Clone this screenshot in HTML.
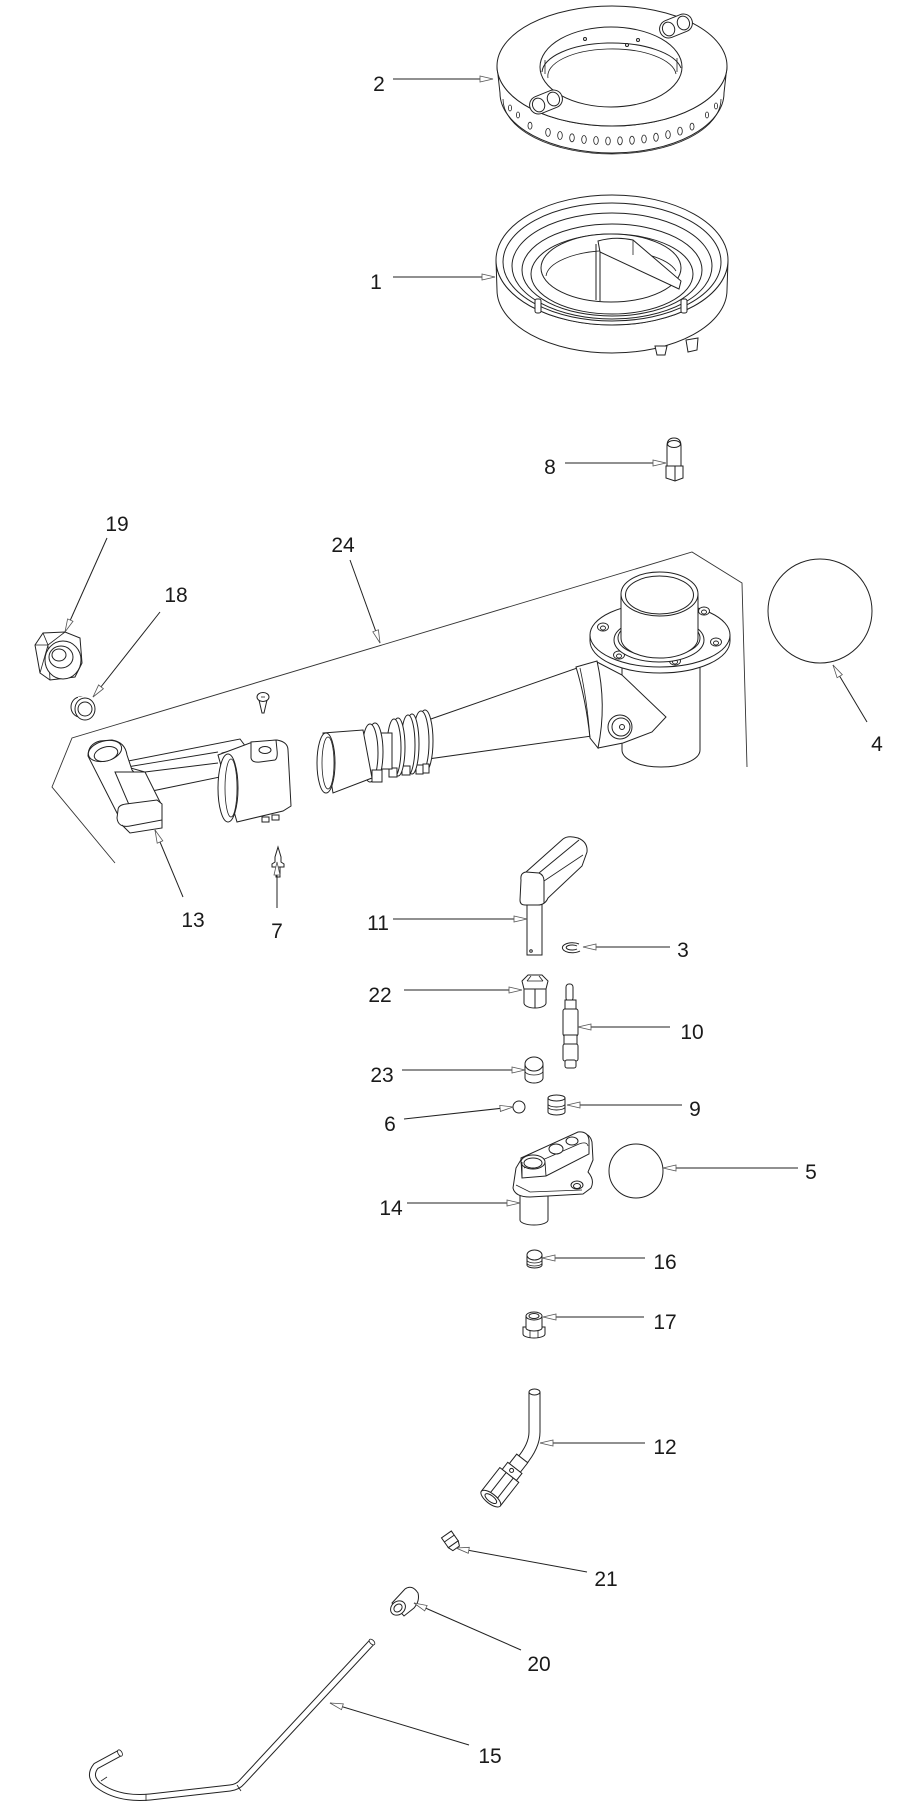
<!DOCTYPE html>
<html><head><meta charset="utf-8"><style>
html,body{margin:0;padding:0;background:#fff;}
svg{display:block;}
text{font-family:"Liberation Sans",sans-serif;font-size:21px;fill:#1a1a1a;text-anchor:middle;}
</style></head><body>
<svg width="923" height="1808" viewBox="0 0 923 1808" xmlns="http://www.w3.org/2000/svg">
<rect width="923" height="1808" fill="#fff"/>

<!-- ============ RING 2 ============ -->
<g stroke="#222" stroke-width="1" fill="#fff">
<path d="M497,66 L500,93 A112,60 0 0 0 724,93 L727,66 A115,60 0 0 1 497,66 Z"/>
<path d="M503,99 A109,55 0 0 0 721,99" fill="none" stroke-width="0.8"/>
<ellipse cx="612" cy="66" rx="115" ry="60"/>
<ellipse cx="611" cy="67" rx="71" ry="40"/>
<path d="M542,72 A70,30 0 0 1 681,68" fill="none"/>
<path d="M548,78 A64,27 0 0 1 676,74" fill="none" stroke-width="0.8"/>
<line x1="545" y1="60" x2="545" y2="74" stroke-width="0.8"/>
<line x1="677" y1="58" x2="677" y2="72" stroke-width="0.8"/>
<circle cx="585" cy="39" r="1.5"/><circle cx="638" cy="40" r="1.5"/><circle cx="627" cy="45" r="1.5"/>
<g transform="rotate(-22 676 26)"><rect x="659" y="17" width="34" height="18" rx="9"/><ellipse cx="668" cy="26" rx="6" ry="7"/><ellipse cx="684" cy="26" rx="6" ry="7"/></g>
<g transform="rotate(-22 546 102)"><rect x="529" y="93" width="34" height="18" rx="9"/><ellipse cx="538" cy="102" rx="6" ry="7"/><ellipse cx="554" cy="102" rx="6" ry="7"/></g>
<g stroke-width="0.8">
<ellipse cx="530" cy="125.7" rx="2" ry="3.5"/>
<ellipse cx="548" cy="132.4" rx="2.3" ry="4"/>
<ellipse cx="560" cy="135.5" rx="2.3" ry="4"/>
<ellipse cx="572" cy="137.8" rx="2.3" ry="4"/>
<ellipse cx="584" cy="139.5" rx="2.3" ry="4"/>
<ellipse cx="596" cy="140.5" rx="2.3" ry="4"/>
<ellipse cx="608" cy="141" rx="2.3" ry="4"/>
<ellipse cx="620" cy="140.8" rx="2.3" ry="4"/>
<ellipse cx="632" cy="140.2" rx="2.3" ry="4"/>
<ellipse cx="644" cy="139" rx="2.3" ry="4"/>
<ellipse cx="656" cy="137.2" rx="2.3" ry="4"/>
<ellipse cx="668" cy="134.6" rx="2.3" ry="4"/>
<ellipse cx="680" cy="131.1" rx="2.3" ry="4"/>
<ellipse cx="692" cy="126.6" rx="2" ry="3.5"/>
<ellipse cx="510" cy="108" rx="1.6" ry="3"/>
<ellipse cx="518" cy="115" rx="1.6" ry="3"/>
<ellipse cx="707" cy="115" rx="1.6" ry="3"/>
<ellipse cx="716" cy="106" rx="1.6" ry="3"/>
</g>
</g>

<!-- ============ RING 1 ============ -->
<g stroke="#222" stroke-width="1" fill="#fff">
<path d="M496,260 L497,290 A115,63 0 0 0 727,290 L728,260 A116,65 0 0 1 496,260 Z"/>
<path d="M655,346 L657,355 L665,355 L667,346 Z"/>
<path d="M686,340 L688,352 L697,350 L698,338 Z"/>
<ellipse cx="612" cy="260" rx="116" ry="65"/>
<ellipse cx="612" cy="262" rx="109" ry="59" fill="none"/>
<ellipse cx="612" cy="266" rx="100" ry="53" fill="none"/>
<ellipse cx="612" cy="270" rx="90" ry="46" fill="none"/>
<ellipse cx="612" cy="274" rx="81" ry="40" fill="none"/>
<ellipse cx="611" cy="268" rx="70" ry="34"/>
<path d="M546,276 A66,27 0 0 1 676,271" fill="none" stroke-width="0.8"/>
<path d="M596,244 L596,300 M600,246 L600,301" fill="none"/>
<path d="M598,241 Q615,236 633,240 L681,281 L679,289 L600,252 Z"/>
<path d="M633,240 L633,255" fill="none" stroke-width="0.8"/>
<rect x="535" y="299" width="6" height="14" rx="2"/>
<rect x="681" y="299" width="6" height="14" rx="2"/>
</g>

<!-- ============ PART 8 ============ -->
<g stroke="#222" stroke-width="1" fill="#fff">
<path d="M667,446 Q667,438 674,438 Q681,438 681,446 L681,466 L667,466 Z"/>
<ellipse cx="674" cy="444" rx="6.5" ry="3.5"/>
<path d="M666,466 L683,466 L683,478 L675,481 L666,478 Z"/>
<line x1="675" y1="466" x2="675" y2="481"/>
</g>

<!-- ============ PART 24 ============ -->
<polyline points="115,863 52,787 72,738 692,552 742,583 747,767" fill="none" stroke="#333" stroke-width="0.9"/>
<g stroke="#222" stroke-width="1" fill="#fff">
<!-- vertical body -->
<path d="M622,640 L622,750 A39,17 0 0 0 700,750 L700,640 Z"/>
<!-- flange -->
<path d="M590,635 L590,641 A70,32 0 0 0 730,641 L730,635 Z"/>
<ellipse cx="660" cy="635" rx="70" ry="32"/>
<g stroke-width="0.9">
<ellipse cx="603" cy="627" rx="5.5" ry="4"/><ellipse cx="603" cy="628" rx="2.5" ry="2"/>
<ellipse cx="619" cy="655" rx="5.5" ry="4"/><ellipse cx="619" cy="656" rx="2.5" ry="2"/>
<ellipse cx="675" cy="661" rx="5.5" ry="4"/><ellipse cx="675" cy="662" rx="2.5" ry="2"/>
<ellipse cx="716" cy="642" rx="5.5" ry="4"/><ellipse cx="716" cy="643" rx="2.5" ry="2"/>
<ellipse cx="704" cy="611" rx="5.5" ry="4"/><ellipse cx="704" cy="612" rx="2.5" ry="2"/>
</g>
<ellipse cx="659" cy="640" rx="45" ry="22"/>
<ellipse cx="659" cy="638" rx="41" ry="19"/>
<!-- top tube -->
<path d="M621,594 L621,638 A38.5,20 0 0 0 698,638 L698,594 Z"/>
<ellipse cx="659.5" cy="594" rx="38.5" ry="22"/>
<ellipse cx="659.5" cy="595" rx="34" ry="19"/>
<!-- arm -->
<polygon points="428,720 580,667 592,736 428,759"/>
<!-- bracket -->
<polygon points="597,662 622,675 666,717 652,732 623,743 598,748"/>
<path d="M576,667 L597,661 Q607,705 598,748 L590,738 Q586,700 576,667 Z"/>
<path d="M590,738 Q587,700 580,668" fill="none" stroke-width="0.8"/>
<circle cx="620" cy="727" r="12"/>
<circle cx="621" cy="727" r="9"/>
<circle cx="622" cy="727" r="2.5"/>
<!-- ribs -->
<ellipse cx="425" cy="741" rx="8" ry="31"/>
<ellipse cx="421" cy="742" rx="8" ry="31"/>
<rect x="416" y="765" width="7" height="9"/><rect x="423" y="764" width="6" height="9"/>
<ellipse cx="412" cy="744" rx="7" ry="30"/>
<ellipse cx="408" cy="745" rx="7" ry="30"/>
<rect x="402" y="766" width="8" height="9"/>
<ellipse cx="398" cy="747" rx="7" ry="29"/>
<ellipse cx="394" cy="748" rx="7" ry="29"/>
<rect x="389" y="768" width="8" height="9"/>
<rect x="378" y="733" width="14" height="36"/>
<ellipse cx="375" cy="752" rx="8" ry="29"/>
<ellipse cx="370" cy="753" rx="8" ry="29"/>
<rect x="372" y="770" width="10" height="12"/>
<!-- cone -->
<polygon points="323,733 363,730 372,778 333,793"/>
<ellipse cx="326" cy="763" rx="9" ry="30"/>
<ellipse cx="328" cy="763" rx="6" ry="26" fill="none" stroke-width="0.8"/>
</g>

<!-- screw -->
<g stroke="#222" stroke-width="1" fill="#fff">
<path d="M259,700 L267,700 L264,713 L262,713 Z"/>
<ellipse cx="263" cy="697" rx="6" ry="4.5"/>
<line x1="261" y1="697" x2="265" y2="697" stroke-width="0.8"/>
</g>

<!-- ============ PART 13 ============ -->
<g stroke="#222" stroke-width="1" fill="#fff">
<!-- arm -->
<path d="M123,762 L240,739 L246,747 L222,753 L220,777 L152,791 L145,772 L127,767 Z"/>
<line x1="127" y1="767" x2="218" y2="752" stroke-width="0.9"/>
<line x1="145" y1="772" x2="218" y2="763" stroke-width="0.9"/>
<!-- elbow -->
<path d="M88,756 Q88,744 100,741 L112,740 Q125,742 127,755 L132,770 L160,802 L130,808 L118,815 Z"/>
<ellipse cx="105" cy="751" rx="17" ry="10" transform="rotate(-15 105 751)"/>
<ellipse cx="106" cy="754" rx="12" ry="7" transform="rotate(-15 106 754)"/>
<path d="M115,772 L145,772 L160,802 L130,807 Z"/>
<path d="M118,810 Q118,805 126,804 L157,800 L162,804 L162,820 L130,826 Q118,828 117,818 Z"/>
<path d="M122,825 L130,833 L162,828 L162,820" fill="none"/>
<!-- clamp -->
<path d="M218,755 L250,743 L277,740 Q288,742 288,750 L291,806 L283,811 L237,822 Z"/>
<ellipse cx="228" cy="788" rx="10" ry="34"/>
<ellipse cx="231" cy="788" rx="6" ry="29" fill="none" stroke-width="0.8"/>
<path d="M251,742 L251,758 Q252,763 260,762 L275,760 Q278,758 277,750 L276,740 Z"/>
<ellipse cx="265" cy="750" rx="6" ry="3.5"/>
<rect x="262" y="817" width="7" height="5"/><rect x="272" y="815" width="7" height="5"/>
</g>

<!-- part 7 -->
<g stroke="#222" stroke-width="1" fill="#fff">
<path d="M278,847 L281,857 L281,862 L284,864 L284,867 L272,867 L272,864 L275,862 L275,857 Z"/>
<rect x="276" y="867" width="4" height="10"/>
</g>

<!-- part 19 -->
<g stroke="#222" stroke-width="1" fill="#fff">
<polygon points="35,645 43,633 65,632 80,638 82,663 75,677 50,680 40,673"/>
<path d="M43,633 L48,645 L35,645 M48,645 L65,632 M48,645 L50,680 M40,673 L48,645" fill="none" stroke-width="0.8"/>
<ellipse cx="63" cy="660" rx="18" ry="19"/>
<ellipse cx="61" cy="657" rx="12" ry="11"/>
<ellipse cx="59" cy="655" rx="7" ry="6"/>
</g>
<!-- part 18 -->
<g stroke="#222" stroke-width="1" fill="#fff">
<ellipse cx="80" cy="707" rx="9" ry="10"/>
<rect x="78" y="697" width="6" height="21" stroke="none"/>
<ellipse cx="85" cy="709" rx="10" ry="11"/>
<ellipse cx="85" cy="709" rx="7" ry="7"/>
</g>

<!-- circle 4 -->
<circle cx="820" cy="611" r="52" fill="none" stroke="#222" stroke-width="1"/>

<!-- ============ PART 11 ============ -->
<g stroke="#222" stroke-width="1" fill="#fff">
<rect x="527" y="900" width="15" height="55"/>
<circle cx="531" cy="951" r="1.3"/>
<path d="M521,880 Q520,873 526,872 L563,839 Q568,835 578,838 Q588,842 587,852 L582,866 L548,898 Q545,905 538,905 L525,905 Q520,905 520,900 Z"/>
<path d="M526,872 L539,873 Q544,875 544,881 L544,903" fill="none"/>
<path d="M539,873 L579,840" fill="none"/>
<path d="M544,881 L583,855" fill="none" stroke-width="0.8"/>
</g>

<!-- part 3 -->
<g stroke="#222" stroke-width="1" fill="none">
<path d="M579,944 A10,5 0 1 0 580,951"/>
<path d="M577,946 A6,2.5 0 1 0 577,949"/>
</g>

<!-- part 22 -->
<g stroke="#222" stroke-width="1" fill="#fff">
<path d="M524,988 L524,1003 A11,5 0 0 0 546,1003 L546,988 Z"/>
<polygon points="522,981 528,975 542,975 548,981 546,989 524,989"/>
<path d="M527,981 L543,981 M527,981 L531,976 M543,981 L539,976" fill="none" stroke-width="0.8"/>
<line x1="535" y1="989" x2="535" y2="1008"/>
</g>

<!-- part 10 -->
<g stroke="#222" stroke-width="1" fill="#fff">
<rect x="566" y="984" width="7" height="17" rx="3"/>
<rect x="565" y="1000" width="11" height="10"/>
<rect x="563" y="1009" width="15" height="27" rx="2"/>
<rect x="564" y="1035" width="13" height="10"/>
<rect x="563" y="1044" width="15" height="17" rx="2"/>
<rect x="565" y="1060" width="11" height="8" rx="2"/>
</g>

<!-- part 23 -->
<g stroke="#222" stroke-width="1" fill="#fff">
<path d="M525,1065 L525,1078 A9,5 0 0 0 543,1078 L543,1065 Z"/>
<ellipse cx="534" cy="1064" rx="9" ry="7"/>
<path d="M525,1071 A9,4 0 0 0 543,1071" fill="none" stroke-width="0.8"/>
</g>

<!-- part 6 -->
<circle cx="519" cy="1107" r="6" fill="#fff" stroke="#222" stroke-width="1"/>

<!-- part 9 -->
<g stroke="#222" stroke-width="1" fill="#fff">
<path d="M548,1098 L548,1112 A8.5,3 0 0 0 565,1112 L565,1098 Z"/>
<ellipse cx="556.5" cy="1098" rx="8.5" ry="3"/>
<path d="M548,1104 A8.5,3 0 0 0 565,1104 M548,1107 A8.5,3 0 0 0 565,1107" fill="none" stroke-width="0.9"/>
</g>

<!-- ============ PART 14 ============ -->
<g stroke="#222" stroke-width="1" fill="#fff">
<path d="M520,1193 L520,1220 A14,5 0 0 0 548,1220 L548,1193 Z"/>
<path d="M513,1188 L516,1168 L522,1158 L580,1133 Q590,1133 592,1142 L593,1160 L588,1172 Q595,1180 591,1188 L583,1194 L530,1197 Q515,1197 513,1188 Z"/>
<path d="M516,1185 L530,1192 L582,1190" fill="none" stroke-width="0.8"/>
<path d="M521,1158 L578,1132 Q588,1131 589,1140 L589,1154 L546,1176 L522,1178 Z"/>
<path d="M524,1168 L579,1144 Q587,1141 588,1146" fill="none" stroke-width="0.8"/>
<ellipse cx="533" cy="1162" rx="12" ry="7"/>
<ellipse cx="533" cy="1163" rx="9" ry="5"/>
<ellipse cx="556" cy="1149" rx="7" ry="5"/>
<ellipse cx="572" cy="1141" rx="6" ry="4"/>
<path d="M522,1162 L522,1178 M545,1162 L546,1176" fill="none" stroke-width="0.9"/>
<ellipse cx="577" cy="1185" rx="6" ry="4"/>
<ellipse cx="577" cy="1186" rx="3.5" ry="2.5"/>
</g>

<!-- circle 5 -->
<circle cx="636" cy="1171" r="27" fill="none" stroke="#222" stroke-width="1"/>

<!-- part 16 -->
<g stroke="#222" stroke-width="1" fill="#fff">
<path d="M527,1255 L527,1265 A7.5,3 0 0 0 542,1265 L542,1255 Z"/>
<ellipse cx="534.5" cy="1255" rx="7.5" ry="5"/>
<path d="M527,1260 A7.5,3 0 0 0 542,1260 M527,1263 A7.5,3 0 0 0 542,1263" fill="none" stroke-width="0.8"/>
</g>

<!-- part 17 -->
<g stroke="#222" stroke-width="1" fill="#fff">
<path d="M523,1327 L523,1334 A11,4 0 0 0 545,1334 L545,1327 Z"/>
<path d="M526,1316 L526,1328 A8,3 0 0 0 542,1328 L542,1316 Z"/>
<ellipse cx="534" cy="1316" rx="8" ry="4"/>
<ellipse cx="534" cy="1316" rx="5" ry="2.5"/>
<path d="M530,1331 L530,1338 M538,1331 L538,1338" fill="none" stroke-width="0.8"/>
</g>

<!-- ============ PART 12 ============ -->
<g fill="none">
<path d="M534.5,1392 L534.5,1432 Q534.5,1446 521,1462" stroke="#222" stroke-width="12"/>
<path d="M534.5,1392 L534.5,1432 Q534.5,1446 521,1462" stroke="#fff" stroke-width="10"/>
</g>
<g stroke="#222" stroke-width="1" fill="#fff">
<ellipse cx="534.5" cy="1392" rx="5.5" ry="3"/>
<g transform="translate(521,1460) rotate(38)">
<rect x="-7" y="-2" width="14" height="12"/>
<rect x="-9" y="10" width="18" height="9"/>
<rect x="-12" y="19" width="24" height="30"/>
<line x1="-4" y1="19" x2="-4" y2="49"/>
<line x1="5" y1="19" x2="5" y2="49"/>
<ellipse cx="0" cy="49" rx="12" ry="5"/>
<ellipse cx="0" cy="49" rx="7" ry="3"/>
<circle cx="-1" cy="14" r="2"/>
</g>
</g>

<!-- part 21 -->
<g stroke="#222" stroke-width="1" fill="#fff" transform="translate(451,1541) rotate(-35)">
<rect x="-6" y="-8" width="12" height="12"/>
<line x1="-6" y1="-3" x2="6" y2="-3"/>
<path d="M-6,4 L-4,9 L4,9 L6,4 Z"/>
</g>

<!-- part 20 -->
<g stroke="#222" stroke-width="1" fill="#fff">
<path d="M392,1603 L405,1589 Q412,1584 418,1593 Q420,1601 414,1608 L404,1616 Z"/>
<ellipse cx="398" cy="1608" rx="8" ry="6.5" transform="rotate(-40 398 1608)"/>
<ellipse cx="398" cy="1608" rx="4.5" ry="3.5" transform="rotate(-40 398 1608)"/>
</g>

<!-- ============ PART 15 ============ -->
<g fill="none" stroke-linejoin="round">
<path d="M372,1642 L242,1782 Q238,1787 230,1788 L150,1797 Q118,1800 98,1785 Q88,1776 96,1766 L120,1753" stroke="#222" stroke-width="7"/>
<path d="M372,1642 L242,1782 Q238,1787 230,1788 L150,1797 Q118,1800 98,1785 Q88,1776 96,1766 L120,1753" stroke="#fff" stroke-width="5"/>
</g>
<g stroke="#222" stroke-width="0.8" fill="#fff">
<ellipse cx="372" cy="1642" rx="3.5" ry="2" transform="rotate(45 372 1642)"/>
<ellipse cx="120" cy="1753" rx="2" ry="3.5" transform="rotate(-30 120 1753)"/>
<line x1="237" y1="1785" x2="241" y2="1791"/>
<line x1="146" y1="1794" x2="146" y2="1801"/>
<line x1="101" y1="1781" x2="107" y2="1777"/>
</g>

<!-- ============ LEADERS ============ -->
<g stroke="#222" stroke-width="1" fill="none">
<line x1="393" y1="79" x2="493" y2="79"/>
<line x1="393" y1="277" x2="495" y2="277"/>
<line x1="565" y1="463" x2="666" y2="463"/>
<line x1="107" y1="538" x2="65" y2="632"/>
<line x1="160" y1="612" x2="93" y2="697"/>
<line x1="350" y1="560" x2="380" y2="643"/>
<line x1="867" y1="722" x2="833" y2="665"/>
<line x1="183" y1="897" x2="155" y2="830"/>
<line x1="277" y1="908" x2="277" y2="862"/>
<line x1="393" y1="919" x2="527" y2="919"/>
<line x1="670" y1="947" x2="583" y2="947"/>
<line x1="404" y1="990" x2="522" y2="990"/>
<line x1="670" y1="1027" x2="578" y2="1027"/>
<line x1="402" y1="1070" x2="525" y2="1070"/>
<line x1="404" y1="1119" x2="513" y2="1107"/>
<line x1="682" y1="1105" x2="567" y2="1105"/>
<line x1="798" y1="1168" x2="663" y2="1168"/>
<line x1="407" y1="1203" x2="520" y2="1203"/>
<line x1="645" y1="1258" x2="542" y2="1258"/>
<line x1="644" y1="1317" x2="543" y2="1317"/>
<line x1="645" y1="1443" x2="540" y2="1443"/>
<line x1="587" y1="1572" x2="456" y2="1548"/>
<line x1="521" y1="1650" x2="414" y2="1603"/>
<line x1="469" y1="1745" x2="330" y2="1703"/>
</g>
<g stroke="#555" stroke-width="0.8" fill="#fff">
<polygon points="493,79 480,76 480,82"/>
<polygon points="495,277 482,274 482,280"/>
<polygon points="666,463 653,460 653,466"/>
<polygon points="65,632 73.0,621.3 67.6,618.9"/>
<polygon points="93,697 103.4,688.7 98.6,684.9"/>
<polygon points="380,643 378.4,629.8 372.8,631.8"/>
<polygon points="833,665 842.3,674.7 837.1,677.7"/>
<polygon points="155,830 162.8,840.8 157.2,843.2"/>
<polygon points="277,862 274,875 280,875"/>
<polygon points="527,919 514,916 514,922"/>
<polygon points="583,947 596,944 596,950"/>
<polygon points="522,990 509,987 509,993"/>
<polygon points="578,1027 591,1024 591,1030"/>
<polygon points="525,1070 512,1067 512,1073"/>
<polygon points="513,1107 500.4,1111.4 499.8,1105.4"/>
<polygon points="567,1105 580,1102 580,1108"/>
<polygon points="663,1168 676,1165 676,1171"/>
<polygon points="520,1203 507,1200 507,1206"/>
<polygon points="542,1258 555,1255 555,1261"/>
<polygon points="543,1317 556,1314 556,1320"/>
<polygon points="540,1443 553,1440 553,1446"/>
<polygon points="456,1548 468.3,1553.3 469.3,1547.3"/>
<polygon points="414,1603 424.7,1610.9 427.1,1605.5"/>
<polygon points="330,1703 341.5,1709.7 343.3,1703.9"/>
</g>

<!-- ============ LABELS ============ -->
<text x="379" y="91">2</text>
<text x="376" y="289">1</text>
<text x="550" y="474">8</text>
<text x="117" y="531">19</text>
<text x="343" y="552">24</text>
<text x="176" y="602">18</text>
<text x="877" y="751">4</text>
<text x="193" y="927">13</text>
<text x="277" y="938">7</text>
<text x="378" y="930">11</text>
<text x="683" y="957">3</text>
<text x="380" y="1002">22</text>
<text x="692" y="1039">10</text>
<text x="382" y="1082">23</text>
<text x="390" y="1131">6</text>
<text x="695" y="1116">9</text>
<text x="811" y="1179">5</text>
<text x="391" y="1215">14</text>
<text x="665" y="1269">16</text>
<text x="665" y="1329">17</text>
<text x="665" y="1454">12</text>
<text x="606" y="1586">21</text>
<text x="539" y="1671">20</text>
<text x="490" y="1763">15</text>
</svg>
</body></html>
